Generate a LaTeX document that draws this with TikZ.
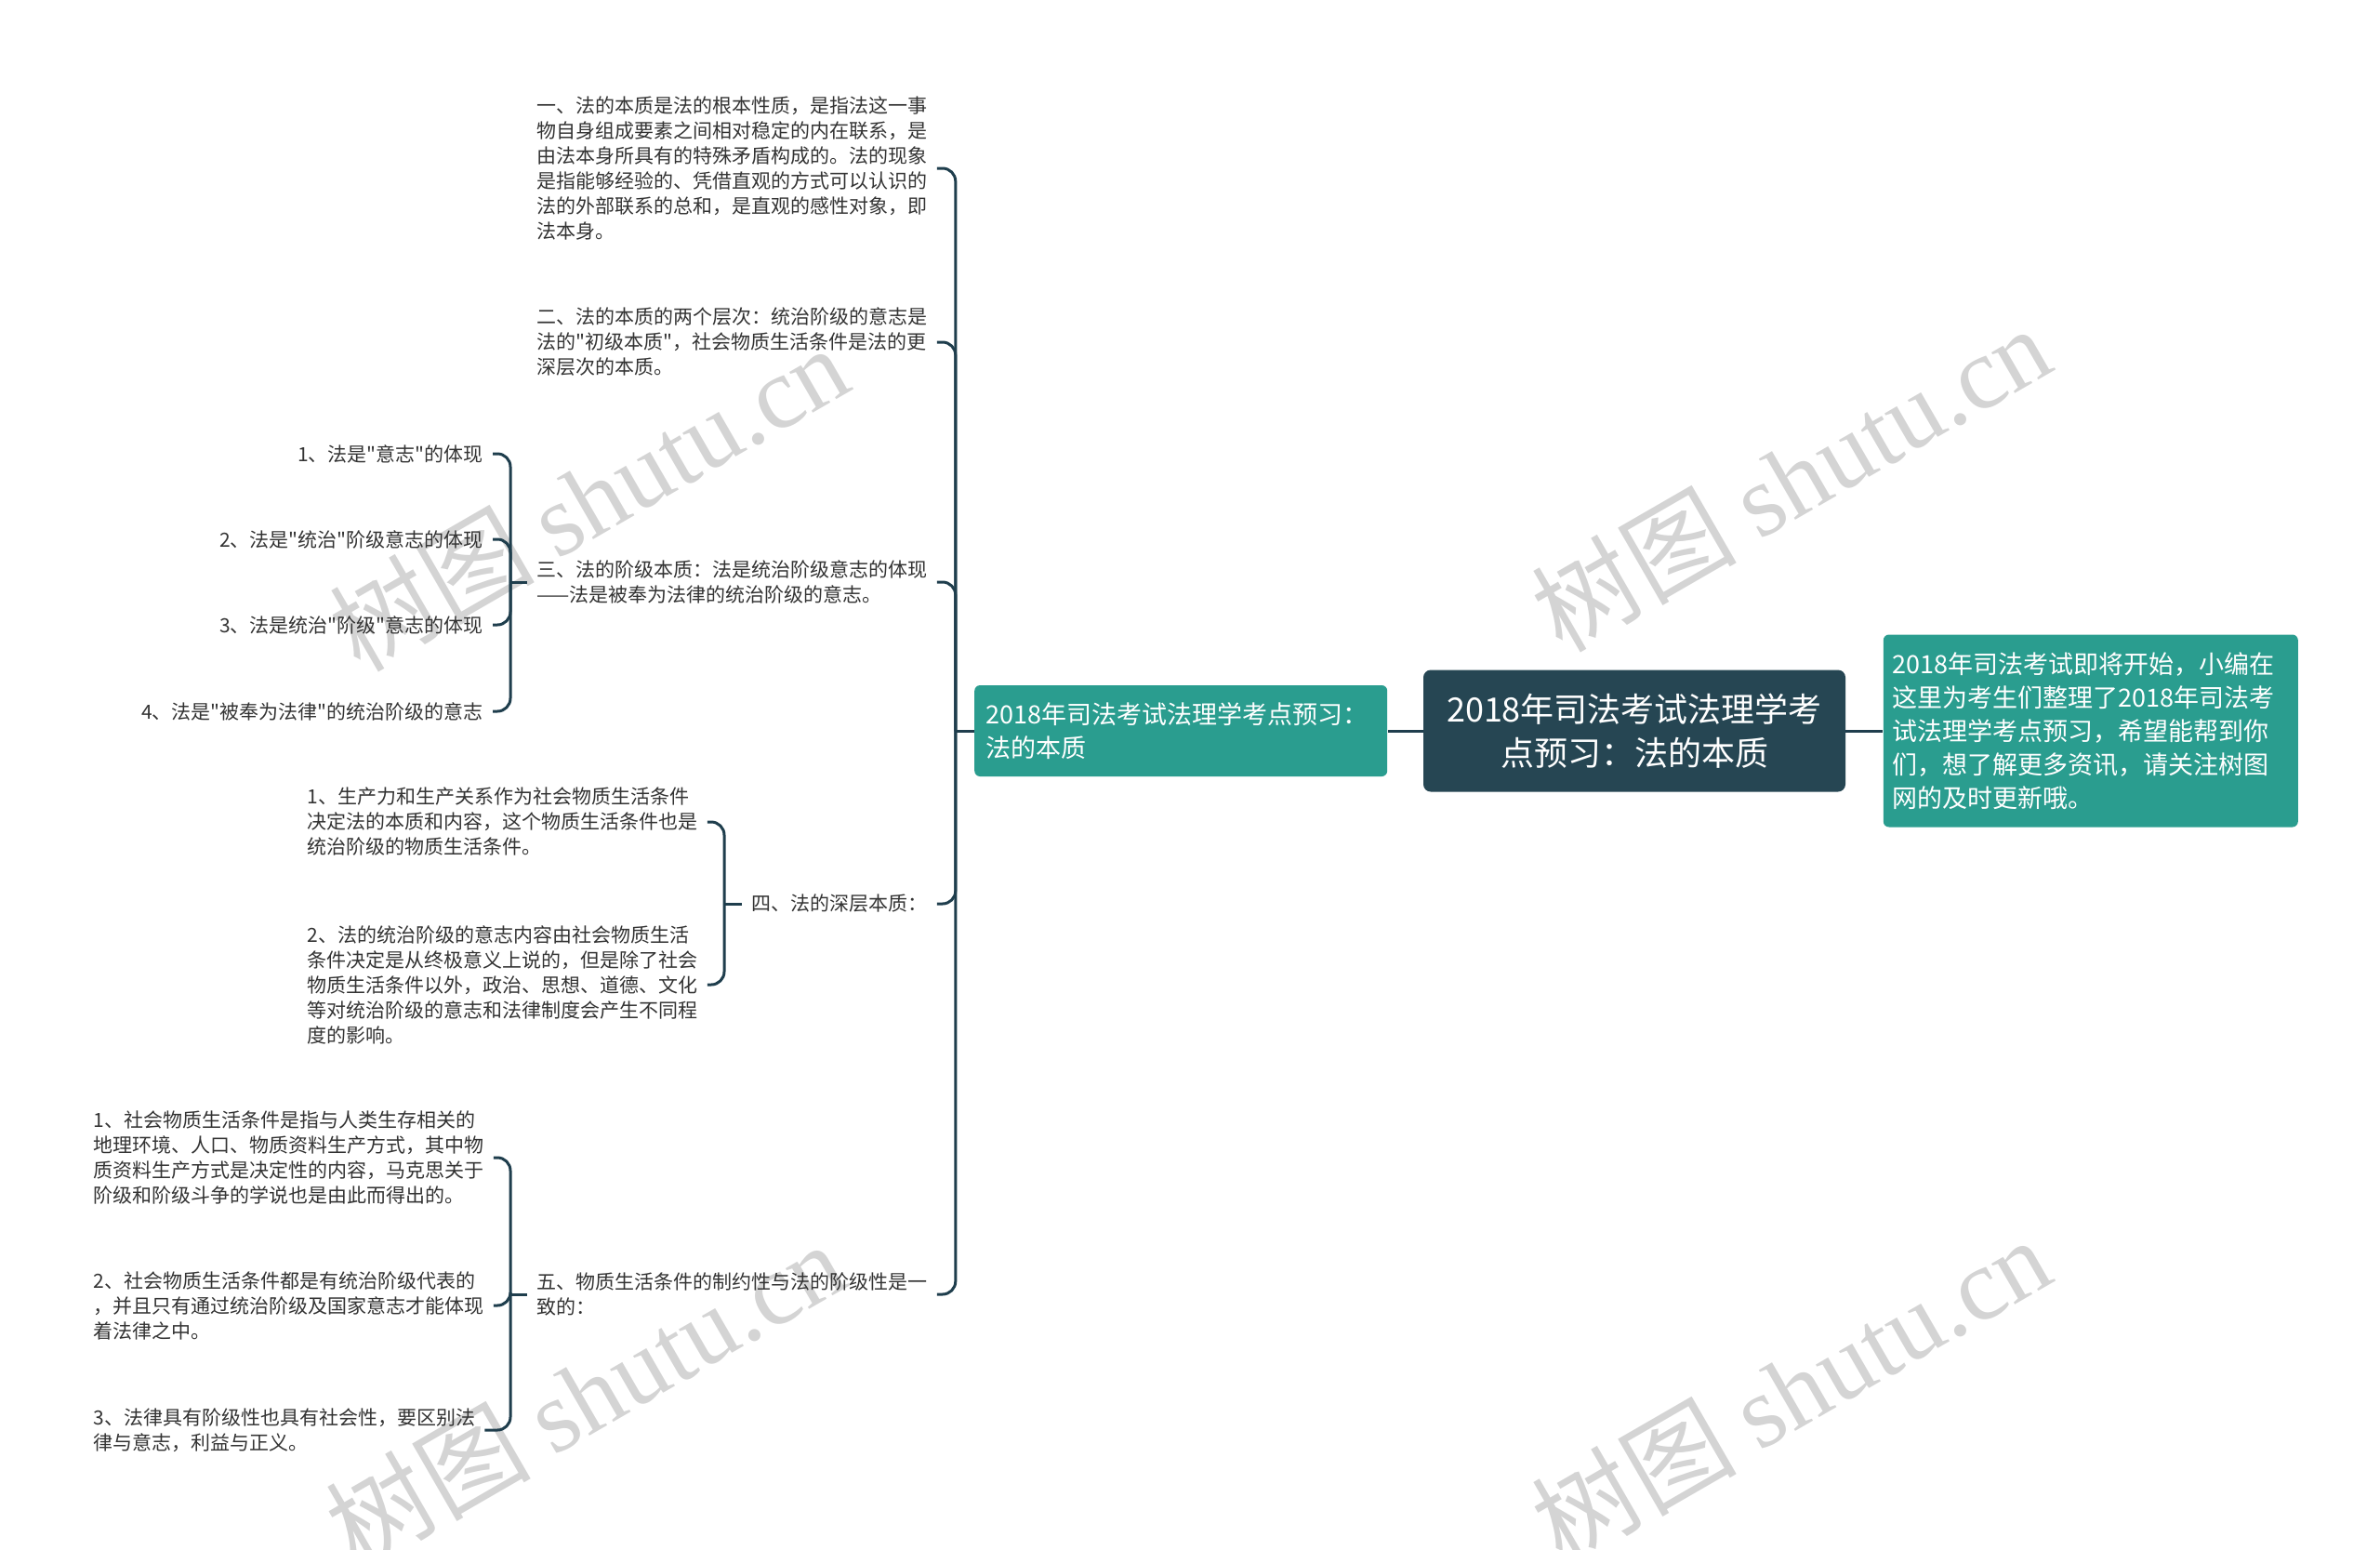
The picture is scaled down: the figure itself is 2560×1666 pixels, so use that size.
\documentclass[tikz,border=0pt]{standalone}
\usepackage{fontspec}
\setmainfont{Noto Sans CJK SC}[Ligatures=TeXOff]
\newfontfamily\wmlatin{Liberation Serif}
\usepackage{xcolor}
\usepackage{tikz}
\usetikzlibrary{positioning}
\definecolor{Slate}{HTML}{264653}
\definecolor{Teal}{HTML}{2A9D8F}
\definecolor{Ink}{HTML}{333333}
\definecolor{Wire}{HTML}{1F3E4D}
\definecolor{Wmark}{HTML}{D4D4D4}

\begin{document}
\begin{tikzpicture}[
  x=0.5pt,y=-0.5pt,
  root/.style={rounded corners=4pt,fill=Slate,text=white,align=center,minimum width=227pt,minimum height=65.5pt,font=\fontsize{18}{23.5}\selectfont},
  topic/.style={rounded corners=3pt,fill=Teal,text=white,align=left,text width=#1,inner xsep=6pt,minimum height=49pt,font=\fontsize{13.5}{18}\selectfont},
  topic/.default=210pt,
  leaf/.style={text=Ink,align=left,inner xsep=5pt,inner ysep=2pt,font=\fontsize{10.5}{13.5}\selectfont},
  link/.style={draw=Wire,line width=1.5pt,rounded corners=7pt},
  wm/.style={text=Wmark,rotate=30,font=\fontsize{55}{58}\selectfont}
]
\useasboundingbox (0,0) rectangle (2560,1666);
\node[wm] (w1) at (633,535) {树图 {\wmlatin shutu.cn}};
\node[wm] (w2) at (1926,514) {树图 {\wmlatin shutu.cn}};
\node[wm] (w3) at (629,1499) {树图 {\wmlatin shutu.cn}};
\node[wm] (w4) at (1926,1494) {树图 {\wmlatin shutu.cn}};

\node[root] (root) at (1758,786) {2018年司法考试法理学考\\点预习：法的本质};
\node[topic,left=19pt of root] (topic) {2018年司法考试法理学考点预习：\\法的本质};
\node[topic=213pt,inner xsep=5pt,minimum height=103.5pt,right=20pt of root] (note) {2018年司法考试即将开始，小编在\\这里为考生们整理了2018年司法考\\试法理学考点预习，希望能帮到你\\们，想了解更多资讯，请关注树图\\网的及时更新哦。};
\coordinate (hub) at ([xshift=-10pt]topic.west);

\node[leaf,anchor=west] (b1) at (567,181) {一、法的本质是法的根本性质，是指法这一事\\物自身组成要素之间相对稳定的内在联系，是\\由法本身所具有的特殊矛盾构成的。法的现象\\是指能够经验的、凭借直观的方式可以认识的\\法的外部联系的总和，是直观的感性对象，即\\法本身。};
\node[leaf,anchor=west] (b2) at (567,368) {二、法的本质的两个层次：统治阶级的意志是\\法的"初级本质"，社会物质生活条件是法的更\\深层次的本质。};
\node[leaf,anchor=west] (b3) at (567,626) {三、法的阶级本质：法是统治阶级意志的体现\\——法是被奉为法律的统治阶级的意志。};
\node[leaf,anchor=west] (b4) at (798,972) {四、法的深层本质：};
\node[leaf,anchor=west] (b5) at (567,1392) {五、物质生活条件的制约性与法的阶级性是一\\致的：};

\coordinate (h3) at ([xshift=-9pt]b3.west);
\node[leaf,align=right,anchor=east] (c31) at (530,488) {1、法是"意志"的体现};
\node[leaf,align=right,anchor=east] (c32) at (530,580) {2、法是"统治"阶级意志的体现};
\node[leaf,align=right,anchor=east] (c33) at (530,672) {3、法是统治"阶级"意志的体现};
\node[leaf,align=right,anchor=east] (c34) at (530,765) {4、法是"被奉为法律"的统治阶级的意志};

\coordinate (h4) at ([xshift=-9.5pt]b4.west);
\node[leaf,anchor=west] (c41) at (320,884) {1、生产力和生产关系作为社会物质生活条件\\决定法的本质和内容，这个物质生活条件也是\\统治阶级的物质生活条件。};
\node[leaf,anchor=west] (c42) at (320,1059) {2、法的统治阶级的意志内容由社会物质生活\\条件决定是从终极意义上说的，但是除了社会\\物质生活条件以外，政治、思想、道德、文化\\等对统治阶级的意志和法律制度会产生不同程\\度的影响。};

\coordinate (h5) at ([xshift=-9pt]b5.west);
\node[leaf,anchor=west] (c51) at (90,1245) {1、社会物质生活条件是指与人类生存相关的\\地理环境、人口、物质资料生产方式，其中物\\质资料生产方式是决定性的内容，马克思关于\\阶级和阶级斗争的学说也是由此而得出的。};
\node[leaf,anchor=west] (c52) at (90,1404) {2、社会物质生活条件都是有统治阶级代表的\\，并且只有通过统治阶级及国家意志才能体现\\着法律之中。};
\node[leaf,anchor=west] (c53) at (90,1538) {3、法律具有阶级性也具有社会性，要区别法\\律与意志，利益与正义。};

\draw[link] (root.west) -- (topic.east);
\draw[link] (root.east) -- (note.west);
\draw[link] (topic.west) -- (hub);
\foreach \n in {b1,b2,b3,b4,b5} \draw[link] (hub) |- (\n.east);
\draw[link] (b3.west) -- (h3);
\foreach \n in {c31,c32,c33,c34} \draw[link] (h3) |- (\n.east);
\draw[link] (b4.west) -- (h4);
\foreach \n in {c41,c42} \draw[link] (h4) |- (\n.east);
\draw[link] (b5.west) -- (h5);
\foreach \n in {c51,c52,c53} \draw[link] (h5) |- (\n.east);
\end{tikzpicture}
\end{document}
